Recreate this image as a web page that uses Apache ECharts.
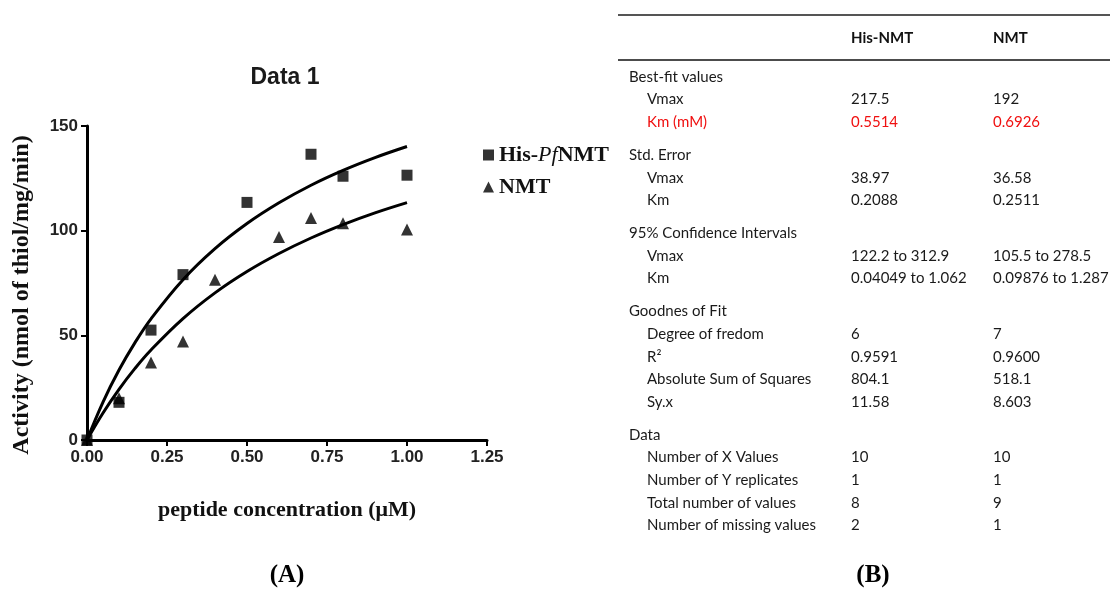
<!DOCTYPE html>
<html>
<head>
<meta charset="utf-8">
<script src="https://cdn.jsdelivr.net/npm/echarts@6/dist/echarts.min.js"></script>
<style>
  html, body { margin: 0; padding: 0; background: #fff; }
  #main { width: 1110px; height: 590px; }
</style>
</head>
<body>
<div id="main"></div>
<script>
// measured points
var hisX = [0, 0.1, 0.2, 0.3, 0.5, 0.7, 0.8, 1.0];
var hisY = [0, 18, 52.5, 79, 113.5, 136.5, 126, 126.5];
var nmtX = [0, 0.1, 0.2, 0.3, 0.4, 0.6, 0.7, 0.8, 1.0];
var nmtY = [0, 20, 37, 47, 76.5, 97, 106, 103.5, 100.5];

// fitted curves
var curveX = [0, 0.05, 0.1, 0.15, 0.2, 0.3, 0.4, 0.5, 0.6, 0.7, 0.8, 0.9, 1.0];
var hisCurve = [0, 18.1, 33.4, 46.5, 57.9, 76.6, 91.4, 103.4, 113.3, 121.7, 128.8, 134.9, 140.2];
var nmtCurve = [0, 12.9, 24.2, 34.2, 43.0, 58.0, 70.3, 80.5, 89.1, 96.5, 102.9, 108.5, 113.4];

// table (B)
var groupNames = ['Best-fit values', 'Std. Error', '95% Confidence Intervals', 'Goodnes of Fit', 'Data'];
var rowNames = [
  ['Vmax', 'Km (mM)'],
  ['Vmax', 'Km'],
  ['Vmax', 'Km'],
  ['Degree of fredom', 'R\u00b2', 'Absolute Sum of Squares', 'Sy.x'],
  ['Number of X Values', 'Number of Y replicates', 'Total number of values', 'Number of missing values']
];
var hisValues = [
  ['217.5', '0.5514'],
  ['38.97', '0.2088'],
  ['122.2 to 312.9', '0.04049 to 1.062'],
  ['6', '0.9591', '804.1', '11.58'],
  ['10', '1', '8', '2']
];
var nmtValues = [
  ['192', '0.6926'],
  ['36.58', '0.2511'],
  ['105.5 to 278.5', '0.09876 to 1.287'],
  ['7', '0.9600', '518.1', '8.603'],
  ['10', '1', '9', '1']
];

function pairs(xs, ys) {
  var out = [];
  for (var i = 0; i < xs.length; i++) out.push([xs[i], ys[i]]);
  return out;
}

var serif = '"Liberation Serif", "Times New Roman", serif';
var sans = '"Liberation Sans", Arial, sans-serif';
var tableFont = 'Lato, "Open Sans", sans-serif';

// build table graphics
var graphics = [];
graphics.push({ type: 'line', shape: { x1: 618, y1: 15, x2: 1110, y2: 15 }, style: { stroke: '#555', lineWidth: 2 } });
graphics.push({ type: 'line', shape: { x1: 618, y1: 60, x2: 1110, y2: 60 }, style: { stroke: '#111', lineWidth: 1.5 } });
graphics.push({ type: 'text', x: 851, y: 38, style: { text: 'His-NMT', font: 'bold 15px ' + tableFont, fill: '#111', verticalAlign: 'middle' } });
graphics.push({ type: 'text', x: 993, y: 38, style: { text: 'NMT', font: 'bold 15px ' + tableFont, fill: '#111', verticalAlign: 'middle' } });
var y = 77;
for (var g = 0; g < groupNames.length; g++) {
  graphics.push({ type: 'text', x: 629, y: y, style: { text: groupNames[g], font: '15px ' + tableFont, fill: '#1a1a1a', verticalAlign: 'middle' } });
  for (var r = 0; r < rowNames[g].length; r++) {
    y += 22.6;
    var col = rowNames[g][r] === 'Km (mM)' ? '#f01010' : '#1a1a1a';
    graphics.push({ type: 'text', x: 647, y: y, style: { text: rowNames[g][r], font: '15px ' + tableFont, fill: col, verticalAlign: 'middle' } });
    graphics.push({ type: 'text', x: 851, y: y, style: { text: hisValues[g][r], font: '15px ' + tableFont, fill: col, verticalAlign: 'middle' } });
    graphics.push({ type: 'text', x: 993, y: y, style: { text: nmtValues[g][r], font: '15px ' + tableFont, fill: col, verticalAlign: 'middle' } });
  }
  y += 33;
}
// chart title, y axis name, panel letters
graphics.push({ type: 'text', x: 285, y: 78, style: { text: 'Data 1', font: 'bold 23px ' + sans, fill: '#1a1a1a', align: 'center', verticalAlign: 'middle' } });
graphics.push({ type: 'text', x: 22, y: 295, rotation: Math.PI / 2, style: { text: 'Activity (nmol of thiol/mg/min)', font: 'bold 24px ' + serif, fill: '#111', align: 'center', verticalAlign: 'middle' } });
graphics.push({ type: 'text', x: 287, y: 576, style: { text: '(A)', font: 'bold 25px ' + serif, fill: '#000', align: 'center', verticalAlign: 'middle' } });
graphics.push({ type: 'text', x: 873, y: 576, style: { text: '(B)', font: 'bold 25px ' + serif, fill: '#000', align: 'center', verticalAlign: 'middle' } });

var chart = echarts.init(document.getElementById('main'));
chart.setOption({
  animation: false,
  backgroundColor: '#fff',
  legend: {
    orient: 'vertical',
    left: 478,
    top: 139,
    itemWidth: 11,
    itemHeight: 11,
    itemGap: 10,
    data: [
      { name: 'His-PfNMT', icon: 'rect' },
      { name: 'NMT', icon: 'triangle' }
    ],
    formatter: function (name) {
      if (name === 'His-PfNMT') return '{b|His-}{i|Pf}{b|NMT}';
      return '{b|' + name + '}';
    },
    textStyle: {
      rich: {
        b: { fontFamily: serif, fontWeight: 'bold', fontSize: 22, color: '#111' },
        i: { fontFamily: serif, fontStyle: 'italic', fontSize: 22, color: '#111' }
      }
    }
  },
  grid: { left: 87, right: 623, top: 126, bottom: 150 },
  xAxis: {
    type: 'value',
    min: 0,
    max: 1.25,
    interval: 0.25,
    name: 'peptide concentration (\u03bcM)',
    nameLocation: 'middle',
    nameGap: 59,
    nameTextStyle: { fontFamily: serif, fontWeight: 'bold', fontSize: 22, color: '#111' },
    axisLine: { onZero: false, lineStyle: { color: '#000', width: 3 } },
    axisTick: { length: 6, lineStyle: { color: '#000', width: 2 } },
    axisLabel: {
      margin: 9,
      formatter: function (v) { return v.toFixed(2); },
      fontFamily: sans, fontWeight: 'bold', fontSize: 17, color: '#222'
    },
    splitLine: { show: false }
  },
  yAxis: {
    type: 'value',
    min: 0,
    max: 150,
    interval: 50,
    axisLine: { show: true, onZero: false, lineStyle: { color: '#000', width: 3 } },
    axisTick: { show: true, length: 6, lineStyle: { color: '#000', width: 2 } },
    axisLabel: {
      margin: 9,
      fontFamily: sans, fontWeight: 'bold', fontSize: 17, color: '#222'
    },
    splitLine: { show: false }
  },
  series: [
    {
      name: 'His-PfNMT fit',
      type: 'line',
      data: pairs(curveX, hisCurve),
      smooth: 0.4,
      showSymbol: false,
      lineStyle: { color: '#000', width: 3 },
      z: 2
    },
    {
      name: 'NMT fit',
      type: 'line',
      data: pairs(curveX, nmtCurve),
      smooth: 0.4,
      showSymbol: false,
      lineStyle: { color: '#000', width: 3 },
      z: 2
    },
    {
      name: 'His-PfNMT',
      type: 'scatter',
      symbol: 'rect',
      symbolSize: 11,
      itemStyle: { color: '#000' },
      data: pairs(hisX, hisY),
      z: 3
    },
    {
      name: 'NMT',
      type: 'scatter',
      symbol: 'triangle',
      symbolSize: 12,
      itemStyle: { color: '#000' },
      data: pairs(nmtX, nmtY),
      z: 3
    }
  ],
  graphic: graphics
});
</script>
</body>
</html>
